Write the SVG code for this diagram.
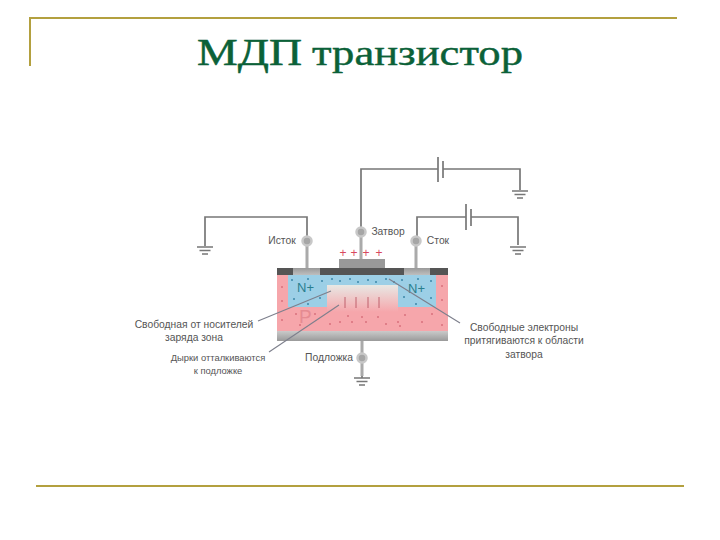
<svg xmlns="http://www.w3.org/2000/svg" width="720" height="540" viewBox="0 0 720 540">
<style>
.title{font-family:"Liberation Serif","Times New Roman",serif;fill:#0b6138;font-size:38px;stroke:#0b6138;stroke-width:.5}
.sub{font-size:35px;stroke-width:.4}
.lb{font-family:"Liberation Sans",Arial,sans-serif;font-size:10.300px;fill:#555;text-anchor:middle}
.frame{fill:none;stroke:#b3a03f;stroke-width:2}
.wire{fill:none;stroke:#777;stroke-width:1.700}
.lead{fill:none;stroke:#7d7f8c;stroke-width:1.100}
.stem{fill:none;stroke:#aaa;stroke-width:3}
.term{fill:#a6a6a6;stroke:#c8c8c8;stroke-width:2.500}
.nt{font-family:"Liberation Sans",Arial,sans-serif;font-size:13px;fill:#2a7f8e}
.rd{fill:#d9707c}.bd{fill:#3d87a8}
.plus{font-family:"Liberation Sans",Arial,sans-serif;font-size:12px;fill:#d9475f;text-anchor:middle}
</style>
<defs>
<linearGradient id="zone" x1="0" y1="0" x2="0" y2="1"><stop offset="0" stop-color="#e8e8e4"/><stop offset="1" stop-color="#f6a6ab"/></linearGradient>
<linearGradient id="sub" x1="0" y1="0" x2="0" y2="1"><stop offset="0" stop-color="#cacaca"/><stop offset="1" stop-color="#9a9a9a"/></linearGradient>
<linearGradient id="contact" x1="0" y1="0" x2="0" y2="1"><stop offset="0" stop-color="#999"/><stop offset="1" stop-color="#c4c4c4"/></linearGradient>
<g id="gnd" fill="none" stroke="#777" stroke-width="1.300"><path d="M-8 0H8M-5.500 3.500H5.500M-3 7H3"/></g>
</defs>
<g id="header">
<path class="frame" d="M30 66V18H677"/>
<text class="title" x="197" y="65" textLength="105" lengthAdjust="spacingAndGlyphs">МДП</text>
<text class="title sub" x="312" y="65" textLength="211" lengthAdjust="spacingAndGlyphs">транзистор</text>
<path class="frame" d="M36 486H684"/>
</g>
<g id="connectors">
<path class="wire" d="M361 232V169H438M443 169H520V190"/>
<path class="wire" d="M438 157V182" stroke-width="2"/><path class="wire" d="M443 161V178" stroke-width="2.500"/>
<path class="wire" d="M417 241V217H466M471 217H518V245"/>
<path class="wire" d="M466 204V230" stroke-width="2"/><path class="wire" d="M471 209V226" stroke-width="2.500"/>
<path class="wire" d="M307 241V217H205V246"/>
<path class="stem" d="M307 241V268M361 232V259M416 241V268M362 341V376"/>
<path class="wire" d="M362 376V378"/>
<use href="#gnd" x="520" y="191"/><use href="#gnd" x="518" y="247"/><use href="#gnd" x="205" y="247"/><use href="#gnd" x="362" y="378"/>
</g>
<g id="device">
<rect x="277" y="268" width="171" height="7" fill="#555"/>
<rect x="277" y="275" width="171" height="56" fill="#f6a6ab"/>
<rect x="277" y="331" width="171" height="10" fill="url(#sub)"/>
<rect x="339" y="259" width="46" height="9" fill="#999"/>
<rect x="293" y="268" width="27" height="8" fill="url(#contact)"/>
<rect x="404" y="268" width="26" height="8" fill="url(#contact)"/>
<path d="M288 275H436V307H398V285H327V307H288Z" fill="#9ccfe6"/>
<rect x="327" y="285" width="71" height="27" fill="url(#zone)"/>
<path d="M345 297V308M356 297V308M368 297V308M379 297V308" stroke="#c0606c" stroke-width="1"/>
<g class="rd">
<circle cx="282" cy="287" r="1"/><circle cx="282" cy="301" r="1"/><circle cx="282" cy="320" r="1"/><circle cx="296" cy="314" r="1"/><circle cx="315" cy="314" r="1"/><circle cx="330" cy="324" r="1"/><circle cx="348" cy="316" r="1"/><circle cx="340" cy="322" r="1"/><circle cx="352" cy="322" r="1"/><circle cx="366" cy="322" r="1"/><circle cx="362" cy="317" r="1"/><circle cx="378" cy="317" r="1"/><circle cx="386" cy="324" r="1"/><circle cx="398" cy="322" r="1"/><circle cx="405" cy="315" r="1"/><circle cx="422" cy="322" r="1"/><circle cx="432" cy="314" r="1"/><circle cx="442" cy="286" r="1"/><circle cx="442" cy="300" r="1"/><circle cx="442" cy="325" r="1"/><circle cx="400" cy="326" r="1"/><circle cx="300" cy="325" r="1"/>
</g>
<g class="bd">
<circle cx="292" cy="280" r="1"/><circle cx="308" cy="279" r="1"/><circle cx="322" cy="281" r="1"/><circle cx="294" cy="299" r="1"/><circle cx="320" cy="298" r="1"/><circle cx="308" cy="304" r="1"/>
<circle cx="332" cy="279" r="1"/><circle cx="340" cy="281" r="1"/><circle cx="350" cy="279" r="1"/><circle cx="358" cy="282" r="1"/><circle cx="368" cy="280" r="1"/><circle cx="376" cy="282" r="1"/><circle cx="386" cy="279" r="1"/><circle cx="394" cy="282" r="1"/>
<circle cx="402" cy="280" r="1"/><circle cx="418" cy="279" r="1"/><circle cx="431" cy="281" r="1"/><circle cx="404" cy="297" r="1"/><circle cx="431" cy="298" r="1"/><circle cx="416" cy="304" r="1"/>
</g>
<text class="nt" x="297" y="292">N+</text>
<text class="nt" x="408" y="293">N+</text>
<text x="299" y="323" font-family="'Liberation Sans',Arial,sans-serif" font-size="19" fill="#e58b92">P</text>
<text class="plus" x="343" y="257">+</text><text class="plus" x="354" y="257">+</text><text class="plus" x="366" y="257">+</text><text class="plus" x="379" y="257">+</text>
</g>
<g id="leaders">
<path class="lead" d="M258 321L331 291"/>
<path class="lead" d="M269 352L339 305"/>
<path class="lead" d="M460 323L389 279"/>
</g>
<g id="terminal-source"><circle class="term" cx="307" cy="241" r="4.500"/><text class="lb" x="282" y="244">Исток</text></g>
<g id="terminal-gate"><circle class="term" cx="361" cy="232" r="4.500"/><text class="lb" x="388" y="235">Затвор</text></g>
<g id="terminal-drain"><circle class="term" cx="416" cy="241" r="4.500"/><text class="lb" x="438" y="244">Сток</text></g>
<g id="terminal-substrate"><circle class="term" cx="362" cy="358" r="4.500"/><text class="lb" x="329" y="361">Подложка</text></g>
<g id="label-zone"><text class="lb" x="194" y="328">Свободная от носителей</text><text class="lb" x="194" y="341">заряда зона</text></g>
<g id="label-holes"><text class="lb" x="218" y="361" style="font-size:9.400px">Дырки отталкиваются</text><text class="lb" x="218" y="374" style="font-size:9.400px">к подложке</text></g>
<g id="label-electrons"><text class="lb" x="524" y="331">Свободные электроны</text><text class="lb" x="524" y="344">притягиваются к области</text><text class="lb" x="524" y="358">затвора</text></g>
</svg>
